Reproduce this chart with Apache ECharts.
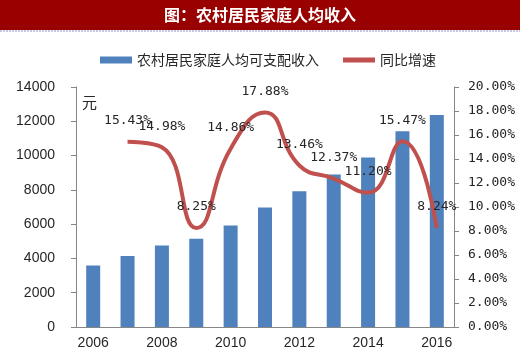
<!DOCTYPE html>
<html><head><meta charset="utf-8">
<script src="https://cdn.jsdelivr.net/npm/echarts@6/dist/echarts.min.js"></script>
<style>html,body{margin:0;padding:0;background:#fff}#c{width:520px;height:361px}</style>
</head><body><div id="c"></div>
<script>
const title = '图：农村居民家庭人均收入';
const years = ['2006','2007','2008','2009','2010','2011','2012','2013','2014','2015','2016'];
const incomeName = '农村居民家庭人均可支配收入';
const growthName = '同比增速';
const income = [3587, 4140, 4761, 5153, 5919, 6977, 7917, 8896, 9892, 11422, 12363];
const growth = [null, 15.43, 14.98, 8.25, 14.86, 17.88, 13.46, 12.37, 11.20, 15.47, 8.24];
const unitLabel = '元';

const chart = echarts.init(document.getElementById('c'));
const axisColor = '#868686';
const txt = '#262626';
chart.setOption({
  animation: false,
  graphic: [
    {type:'rect', shape:{x:0,y:0,width:520,height:30}, style:{fill:'#990000'}},
    {type:'line', shape:{x1:0,y1:31,x2:520,y2:31}, style:{stroke:'#8a8fc8',lineWidth:1,lineDash:[2,1]}},
    {type:'text', x:260, y:15, style:{text:title, fill:'#fff', font:'bold 16px "Noto Sans CJK SC"', align:'center', verticalAlign:'middle'}},
    {type:'text', x:82, y:102, style:{text:unitLabel, fill:txt, font:'15px "Noto Sans CJK SC"', verticalAlign:'middle'}}
  ],
  legend: {
    top: 48, left: 95, itemGap: 24, itemWidth: 32, itemHeight: 7,
    textStyle: {fontFamily:'"Noto Sans CJK SC"', fontSize:14, color:txt},
    data: [
      {name: incomeName, icon: 'rect'},
      {name: growthName, icon: 'path://M0,0 L32,0 L32,5 L0,5 Z', itemStyle:{color:'#C0504D', opacity:1}}
    ]
  },
  grid: {left:76, right:66, top:87, bottom:34},
  xAxis: {
    type:'category', data: years, boundaryGap: true,
    axisLine:{lineStyle:{color:axisColor}},
    axisTick:{interval:0, length:5, lineStyle:{color:axisColor}},
    axisLabel:{interval:1, color:txt, fontFamily:'"Liberation Sans", Arial', fontSize:14, margin:9}
  },
  yAxis: [
    {type:'value', min:0, max:14000, interval:2000,
     splitLine:{show:false},
     axisLine:{show:true, lineStyle:{color:axisColor}},
     axisTick:{show:true, length:5, lineStyle:{color:axisColor}},
     axisLabel:{color:txt, fontFamily:'"Liberation Sans", Arial', fontSize:14, margin:21,
       formatter: v => String(v)}},
    {type:'value', min:0, max:20, interval:2, position:'right',
     splitLine:{show:false},
     axisLine:{show:true, lineStyle:{color:axisColor}},
     axisTick:{show:true, length:5, lineStyle:{color:axisColor}},
     axisLabel:{color:txt, fontFamily:'"DejaVu Sans Mono", monospace', fontSize:13, margin:14,
       formatter: v => v.toFixed(2) + '%'}}
  ],
  series: [
    {name: incomeName, type:'bar', data: income, barWidth: 14,
     itemStyle:{color:'#4F81BD'}},
    {name: growthName, type:'line', yAxisIndex:1, data: growth, smooth: 0.5,
     symbol:'circle', symbolSize:1, showSymbol:true,
     lineStyle:{color:'#C0504D', width:4}, itemStyle:{color:'rgba(0,0,0,0)', borderWidth:0},
     label:{show:true, position:'top', distance:14, color:txt,
       fontFamily:'"DejaVu Sans Mono", monospace', fontSize:13,
       formatter: p => p.value.toFixed(2) + '%'},
     emphasis:{disabled:true}}
  ]
});
</script></body></html>
